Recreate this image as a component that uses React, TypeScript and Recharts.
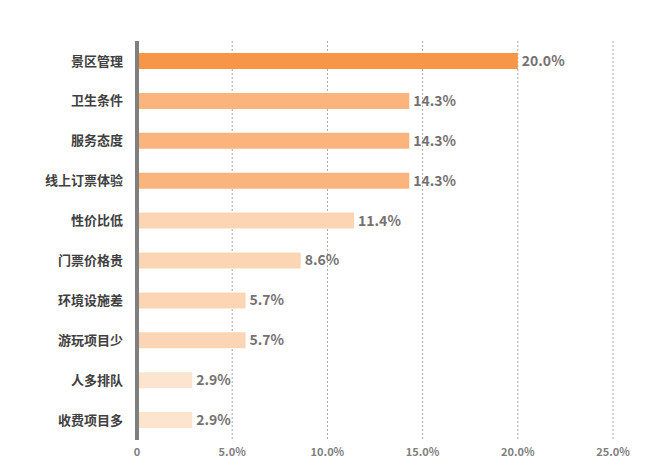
import React from "react";
import { BarChart, Bar, XAxis, YAxis, CartesianGrid, Cell, LabelList } from "recharts";

const categories = ["景区管理", "卫生条件", "服务态度", "线上订票体验", "性价比低", "门票价格贵", "环境设施差", "游玩项目少", "人多排队", "收费项目多"];
const values = [20.0, 14.3, 14.3, 14.3, 11.4, 8.6, 5.7, 5.7, 2.9, 2.9];
const colors = ["#F79646", "#FAB47C", "#FAB47C", "#FAB47C", "#FCD5B4", "#FCD5B4", "#FCD5B4", "#FCD5B4", "#FDE4CF", "#FDE4CF"];
const xTicks = [0, 5, 10, 15, 20, 25];

const data = categories.map((name, i) => ({ name, value: values[i] }));

export default function App() {
  return (
    <div style={{ margin: -8, width: 650, height: 471, background: "#fff", fontFamily: "'Noto Sans CJK SC', sans-serif" }}>
      <BarChart width={650} height={471} data={data} layout="vertical" margin={{ top: 41, right: 37, bottom: 6, left: 0 }} barCategoryGap={12}>
        <CartesianGrid horizontal={false} strokeDasharray="2 2" stroke="#A6A6A6" />
        <XAxis type="number" domain={[0, 25]} ticks={xTicks} axisLine={false} tickLine={false} height={25}
          tickFormatter={(v) => (v === 0 ? "0" : v.toFixed(1) + "%")}
          tick={{ fill: "#808080", fontSize: 11, fontWeight: 700 }} />
        <YAxis type="category" dataKey="name" width={137} axisLine={{ stroke: "#7F7F7F", strokeWidth: 4 }} tickLine={false}
          tick={{ fill: "#404040", fontSize: 13, fontWeight: 700, dx: -6 }} />
        <Bar dataKey="value" barSize={16} isAnimationActive={false}>
          {data.map((d, i) => <Cell key={i} fill={colors[i]} />)}
          <LabelList dataKey="value" position="right" offset={4} formatter={(v: number) => v.toFixed(1) + "%"}
            style={{ fill: "#767171", fontSize: 14, fontWeight: 700 }} />
        </Bar>
      </BarChart>
    </div>
  );
}
